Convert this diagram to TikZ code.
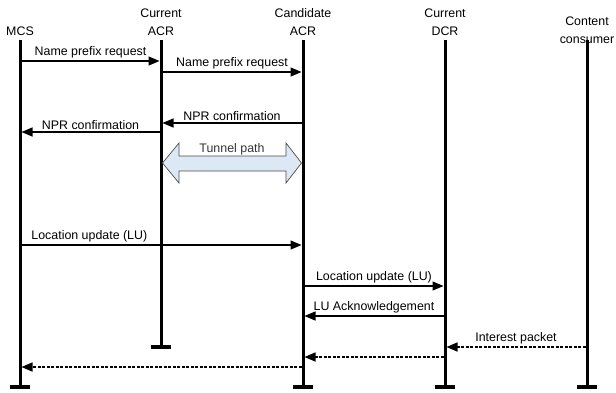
\documentclass[tikz,border=0pt]{standalone}
\usepackage{fontspec}
\setmainfont{Liberation Sans}
\usetikzlibrary{arrows.meta}
\definecolor{tunnelfill}{RGB}{221,232,245}

\begin{document}
\begin{tikzpicture}[
    x=1pt, y=-1pt,
    font=\fontsize{12.4}{18}\selectfont,
    % Style for the entity names on top
    entity/.style={align=center, inner sep=0pt},
    % Style for the thick vertical lifelines
    lifeline/.style={line width=3pt},
    % Style for the short bar closing a lifeline
    endbar/.style={line width=3.3pt},
    % Style for the messages
    msg/.style={line width=1.3pt, -{Triangle[length=11pt,width=9pt]}, shorten >=1.5pt, shorten <=1.5pt},
    reply/.style={msg, dash pattern=on 3pt off 1.5pt, line width=1.5pt},
    lbl/.style={above, inner sep=2pt},
    % Style for the tunnel arrow
    tunnel/.style={draw=black!70, fill=tunnelfill, line width=0.7pt}
]
    \useasboundingbox (0,0) rectangle (616,392);

    % --- 1. Define Coordinates ---
    \coordinate (mcsT) at (20,40);
    \coordinate (curT) at (161,40);
    \coordinate (canT) at (303,40);
    \coordinate (dcrT) at (445,40);
    \coordinate (conT) at (587,40);

    \coordinate (mcsB) at (20,387);
    \coordinate (curB) at (161,347);
    \coordinate (canB) at (303,387);
    \coordinate (dcrB) at (445,387);
    \coordinate (conB) at (587,387);


    % --- 2. Entity Names ---
    \node[entity] (mcs) at (20,31) {MCS};
    \node[entity] (cur) at (161,22) {Current\\ACR};
    \node[entity] (can) at (303,22) {Candidate\\ACR};
    \node[entity] (dcr) at (445,22) {Current\\DCR};
    \node[entity] (con) at (587,30) {Content\\consumer};


    % --- 3. Lifelines and End Bars ---
    \draw[lifeline] (mcsT) -- (mcsB);
    \draw[lifeline] (curT) -- (curB);
    \draw[lifeline] (canT) -- (canB);
    \draw[lifeline] (dcrT) -- (dcrB);
    \draw[lifeline] (conT) -- (conB);

    \draw[endbar] ([xshift=-10]mcsB) -- ([xshift=10]mcsB);
    \draw[endbar] ([xshift=-10]curB) -- ([xshift=10]curB);
    \draw[endbar] ([xshift=-10]canB) -- ([xshift=10]canB);
    \draw[endbar] ([xshift=-10]dcrB) -- ([xshift=10]dcrB);
    \draw[endbar] ([xshift=-10]conB) -- ([xshift=10]conB);


    % --- 4. Name Prefix Request / Confirmation ---
    \draw[msg] (mcsT |- 0,61) -- (curT |- 0,61) node[lbl, midway] {Name prefix request};
    \draw[msg] (curT |- 0,72) -- (canT |- 0,72) node[lbl, midway] {Name prefix request};
    \draw[msg] (canT |- 0,123) -- (curT |- 0,123) node[lbl, midway] {NPR confirmation};
    \draw[msg] (curT |- 0,132) -- (mcsT |- 0,132) node[lbl, midway] {NPR confirmation};


    % --- 5. Tunnel Path ---
    \draw[tunnel] (162.5,163) -- (179,143) -- (179,156) -- (286,156) -- (286,143)
        -- (301.5,163) -- (286,183) -- (286,171) -- (179,171) -- (179,183) -- cycle;
    \node[inner sep=0pt, text=black!80] (tun) at (232,149) {Tunnel path};


    % --- 6. Location Update ---
    \draw[msg] (mcsT |- 0,245) -- (canT |- 0,245) node[lbl, pos=0.245] {Location update (LU)};
    \draw[msg] (canT |- 0,286) -- (dcrT |- 0,286) node[lbl, midway] {Location update (LU)};
    \draw[msg] (dcrT |- 0,316) -- (canT |- 0,316) node[lbl, midway] {LU Acknowledgement};


    % --- 7. Interest Forwarding (dashed) ---
    \draw[reply] (conT |- 0,347) -- (dcrT |- 0,347) node[lbl, midway] {Interest packet};
    \draw[reply] (dcrT |- 0,357) -- (canT |- 0,357);
    \draw[reply] (canT |- 0,367) -- (mcsT |- 0,367);

\end{tikzpicture}
\end{document}
